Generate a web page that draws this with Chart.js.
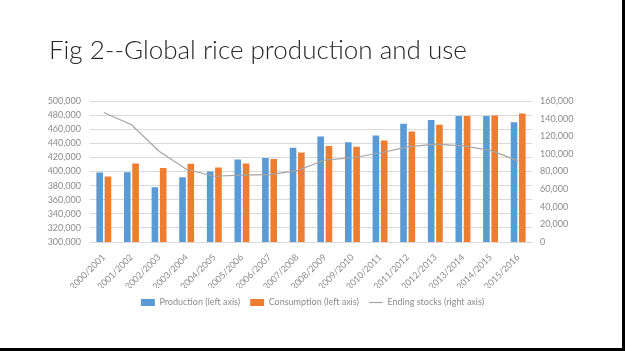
<!DOCTYPE html>
<html>
<head>
<meta charset="utf-8">
<script src="https://cdn.jsdelivr.net/npm/chart.js@4.4.0/dist/chart.umd.min.js"></script>
<style>
  html, body { margin: 0; padding: 0; background: #fff; }
  #wrap { position: relative; width: 625px; height: 351px; overflow: hidden; }
  #wrap::after {
    content: ""; position: absolute; right: 0; top: 0; width: 3px; height: 351px; background: #000;
  }
  #wrap::before {
    content: ""; position: absolute; left: 0; bottom: 0; width: 625px; height: 3px; background: #000;
  }
</style>
</head>
<body>
<div id="wrap"><canvas id="riceChart" width="625" height="351"></canvas></div>
<script>
const chartTitle = "Fig 2--Global rice production and use";
const years = [
  "2000/2001", "2001/2002", "2002/2003", "2003/2004", "2004/2005", "2005/2006",
  "2006/2007", "2007/2008", "2008/2009", "2009/2010", "2010/2011", "2011/2012",
  "2012/2013", "2013/2014", "2014/2015", "2015/2016",
];
const production = [
  398600, 399000, 377600, 391900, 400000, 417100, 419000, 433800,
  449500, 441400, 451000, 467600, 472900, 478600, 478600, 470000,
];
const consumption = [
  392900, 411400, 404800, 411000, 405700, 411400, 417600, 427100,
  436200, 435200, 443800, 456700, 466200, 478600, 479500, 482400,
];
const endingStocks = [
  147000, 133000, 103000, 82300, 74600, 75800, 76500, 81000,
  93000, 95600, 101000, 108000, 111000, 109000, 104000, 92000,
];

const tickFont = { family: "Lato", size: 9 };
const tickColor = "#8c8c8c";

// slide-style title drawn at the top left
const slideTitle = {
  id: "slideTitle",
  afterDraw(chart) {
    const c = chart.ctx;
    c.save();
    c.font = "300 26px Lato";
    c.fillStyle = "#262626";
    c.textBaseline = "alphabetic";
    c.fillText(chartTitle, 49, 59);
    c.restore();
  },
};

const ctx = document.getElementById("riceChart").getContext("2d");
const riceChart = new Chart(ctx, {
  data: {
    labels: years,
    datasets: [
      {
        type: "bar",
        label: "Production (left axis)",
        data: production,
        backgroundColor: "#5b9bd5",
        pointStyle: "rect",
        yAxisID: "y",
        barPercentage: 0.8,
        categoryPercentage: 0.6,
        order: 2,
      },
      {
        type: "bar",
        label: "Consumption (left axis)",
        data: consumption,
        backgroundColor: "#ed7d31",
        pointStyle: "rect",
        yAxisID: "y",
        barPercentage: 0.8,
        categoryPercentage: 0.6,
        order: 2,
      },
      {
        type: "line",
        label: "Ending stocks (right axis)",
        data: endingStocks,
        borderColor: "#a5a5a5",
        backgroundColor: "#a5a5a5",
        borderWidth: 1.2,
        pointRadius: 0,
        pointStyle: "line",
        tension: 0,
        yAxisID: "y1",
        order: 1,
      },
    ],
  },
  plugins: [slideTitle],
  options: {
    responsive: false,
    animation: false,
    layout: {
      padding: { left: 0, right: 0, top: 101, bottom: 34 },
    },
    plugins: {
      legend: {
        position: "bottom",
        labels: {
          usePointStyle: true,
          pointStyleWidth: 14,
          boxHeight: 7,
          padding: 10,
          color: tickColor,
          font: tickFont,
          sort: (a, b) => a.datasetIndex - b.datasetIndex,
        },
      },
      tooltip: { enabled: false },
    },
    scales: {
      x: {
        grid: { display: false },
        border: { color: "#d9d9d9" },
        ticks: {
          color: tickColor,
          font: tickFont,
          minRotation: 45,
          maxRotation: 45,
          autoSkip: false,
          padding: 2,
        },
        afterFit: (scale) => { scale.height = 46; },
      },
      y: {
        position: "left",
        min: 300000,
        max: 500000,
        border: { display: false },
        grid: { color: "#d9d9d9", drawTicks: false },
        ticks: {
          stepSize: 20000,
          autoSkip: false,
          color: tickColor,
          font: tickFont,
          padding: 9,
          callback: (v) => v.toLocaleString("en-US"),
        },
        afterFit: (scale) => { scale.width = 90; },
      },
      y1: {
        position: "right",
        min: 0,
        max: 160000,
        border: { display: false },
        grid: { display: false, drawOnChartArea: false, drawTicks: false },
        ticks: {
          stepSize: 20000,
          autoSkip: false,
          color: tickColor,
          font: tickFont,
          padding: 8,
          callback: (v) => v.toLocaleString("en-US"),
        },
        afterFit: (scale) => { scale.width = 93; },
      },
    },
  },
});
</script>
</body>
</html>
